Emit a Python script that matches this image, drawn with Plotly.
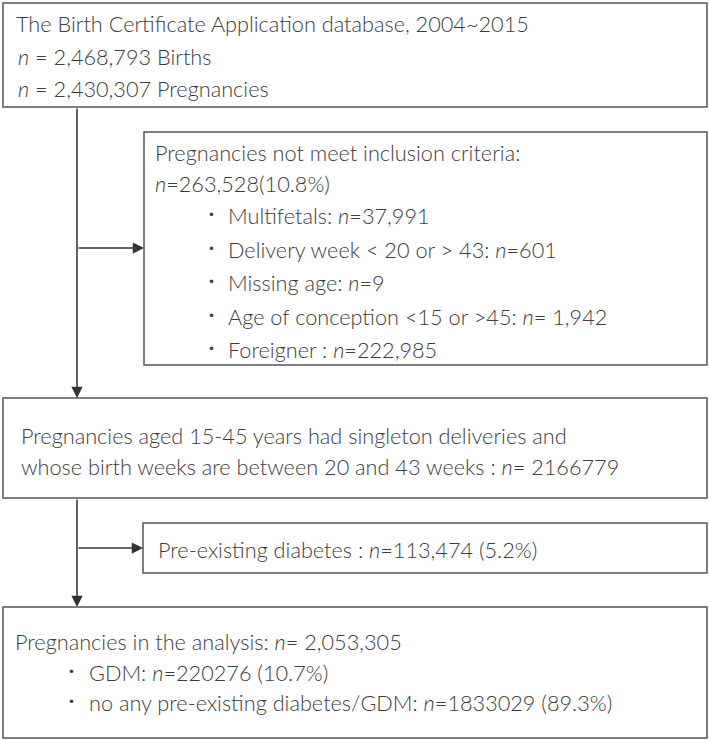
import plotly.graph_objects as go

# ---- data ----
db_years = ["2004", "2015"]
n_births = 2468793
n_pregnancies = 2430307
n_excluded = 263528
pct_excluded = 10.8
excl_labels = ["Multifetals: ", "Delivery week < 20 or > 43: ", "Missing age: ",
               "Age of conception <15 or >45: ", "Foreigner : "]
excl_counts = ["37,991", "601", "9", " 1,942", "222,985"]
n_eligible = "2166779"
n_preexisting = "113,474"
pct_preexisting = 5.2
n_analysis = "2,053,305"
group_labels = ["GDM: ", "no any pre-existing diabetes/GDM: "]
group_counts = ["220276", "1833029"]
group_pct = [10.7, 89.3]

# ---- layout ----
W, H = 709, 740
FONT = "Lato"
TXT = "#3c3c3c"
LINE = "#555555"
FS = 21.7

fig = go.Figure()
fig.update_layout(
    width=W, height=H, margin=dict(l=0, r=0, t=0, b=0),
    paper_bgcolor="white", plot_bgcolor="white",
    xaxis=dict(range=[0, W], visible=False, fixedrange=True),
    yaxis=dict(range=[H, 0], visible=False, fixedrange=True),
    showlegend=False,
)

boxes = [(3, 3, 707, 107), (144, 132, 707, 365), (3, 398, 707, 498),
         (143, 523, 707, 573), (3, 607, 707, 738)]
for x0, y0, x1, y1 in boxes:
    fig.add_shape(type="rect", x0=x0, y0=y0, x1=x1, y1=y1,
                  line=dict(color=LINE, width=1.5), fillcolor="rgba(0,0,0,0)")

def txt(x, y, s, size=FS):
    fig.add_annotation(x=x, y=y, text=s, showarrow=False, xanchor="left",
                       yanchor="middle", xref="x", yref="y",
                       font=dict(family=FONT, size=size, color=TXT, weight=300))

def arrow(x0, y0, x1, y1):
    fig.add_annotation(x=x1, y=y1, ax=x0, ay=y0, xref="x", yref="y",
                       axref="x", ayref="y", text="", showarrow=True,
                       arrowhead=2, arrowsize=1.5, arrowwidth=1.5,
                       arrowcolor="#333333", standoff=0)

# box 1
txt(14, 24, f"The Birth Certificate Application database, {db_years[0]}~{db_years[1]}")
txt(16, 57, f"<i>n</i> = {n_births:,} Births")
txt(16, 89, f"<i>n</i> = {n_pregnancies:,} Pregnancies")

# box 2
txt(153, 153, "Pregnancies not meet inclusion criteria:")
txt(153, 184, f"<i>n</i>={n_excluded:,}({pct_excluded}%)")
ys = [216, 250, 283, 317, 350]
for y, lab, c in zip(ys, excl_labels, excl_counts):
    txt(206, y - 3, "•", 12)
    txt(226, y, f"{lab}<i>n</i>={c}")

# box 3
txt(19, 436, "Pregnancies aged 15-45 years had singleton deliveries and")
txt(19, 467, f"whose birth weeks are between 20 and 43 weeks : <i>n</i>= {n_eligible}")

# box 4
txt(156, 550, f"Pre-existing diabetes : <i>n</i>={n_preexisting} ({pct_preexisting}%)")

# box 5
txt(13, 642, f"Pregnancies in the analysis: <i>n</i>= {n_analysis}")
for y, lab, c, p in zip([673, 703], group_labels, group_counts, group_pct):
    txt(66, y - 3, "•", 12)
    txt(87, y, f"{lab}<i>n</i>={c} ({p}%)")

# arrows
arrow(77, 107, 77, 398)
arrow(77, 248, 144, 248)
arrow(77, 498, 77, 607)
arrow(77, 548, 143, 548)

fig.write_html("out.html", config={"displayModeBar": False},
               post_script="document.body.style.margin='0';document.body.style.overflow='hidden';")
